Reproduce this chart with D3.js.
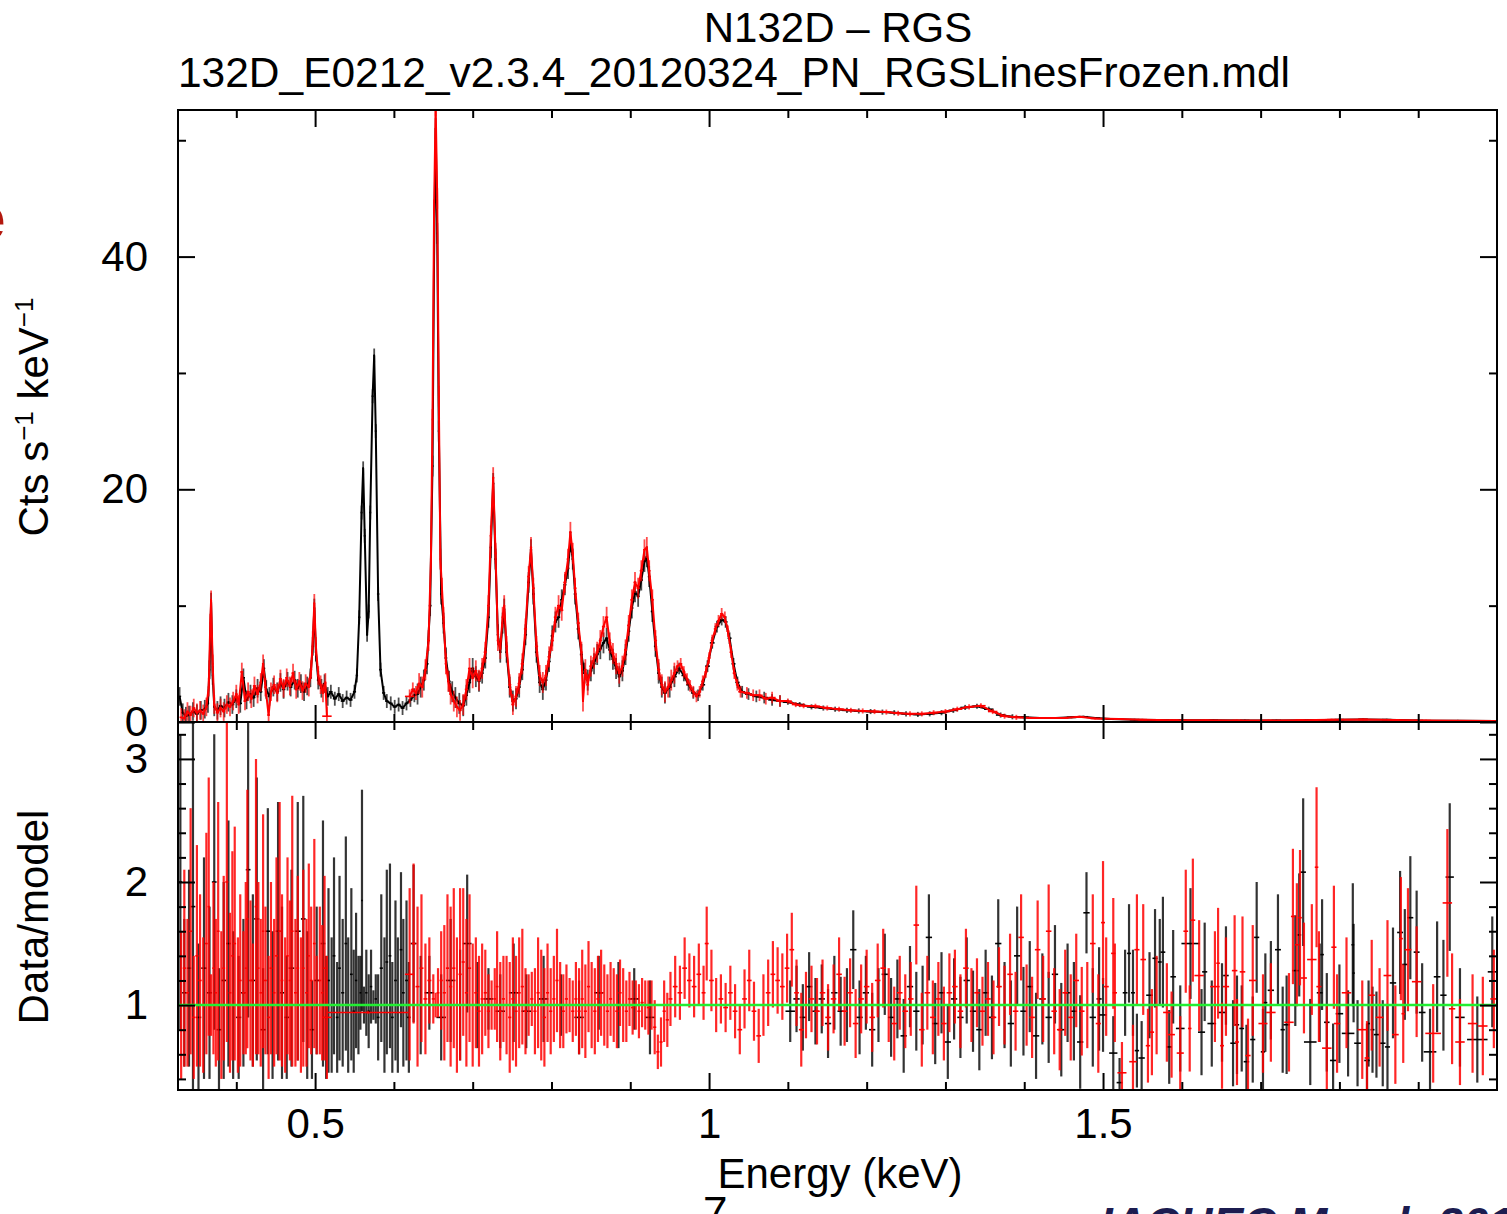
<!DOCTYPE html>
<html>
<head>
<meta charset="utf-8">
<script src="https://cdn.jsdelivr.net/npm/d3@7"></script>
<style>
body { margin: 0; background: #fff; }
text { font-family: "Liberation Sans", Arial, sans-serif; }
</style>
</head>
<body>
<svg id="chart" width="1507" height="1214"></svg>
<script>
// spectrum, [energy keV, counts/s/keV]
let spec_black = [
 [0.328,2.2],[0.332,0.8],[0.336,0.5],[0.340,0.6],[0.345,0.9],[0.350,0.7],[0.355,1.0],[0.360,1.1],[0.364,1.6],[0.366,4.5],
 [0.368,10.3],[0.370,4.0],[0.372,1.3],[0.376,1.0],[0.380,1.4],[0.385,1.2],[0.390,1.7],[0.395,1.5],[0.400,2.0],[0.405,1.6],
 [0.409,3.8],[0.413,1.9],[0.418,2.4],[0.422,2.1],[0.427,2.9],[0.431,2.6],[0.435,4.6],[0.438,2.8],[0.442,2.2],[0.447,3.0],
 [0.452,2.6],[0.456,3.4],[0.460,2.8],[0.465,3.5],[0.469,3.0],[0.474,3.6],[0.478,2.9],[0.482,3.3],[0.486,2.6],[0.490,3.1],
 [0.494,3.8],[0.497,6.5],[0.499,9.8],[0.501,6.0],[0.504,3.6],[0.508,2.9],[0.512,3.3],[0.516,2.2],[0.520,2.6],[0.525,2.0],
 [0.530,2.4],[0.535,1.8],[0.540,2.1],[0.545,1.9],[0.550,2.6],[0.553,4.0],[0.556,9.0],[0.559,18.0],[0.561,21.8],[0.563,16.0],
 [0.566,7.5],[0.568,9.5],[0.570,18.0],[0.573,28.0],[0.575,31.5],[0.577,25.0],[0.580,11.0],[0.583,4.5],[0.587,2.5],[0.591,1.8],
 [0.596,1.6],[0.601,1.3],[0.606,1.5],[0.611,1.2],[0.616,1.6],[0.621,1.9],[0.626,2.3],[0.630,2.4],[0.634,3.0],[0.638,3.6],
 [0.642,5.0],[0.646,10.0],[0.649,22.0],[0.651,40.0],[0.653,51.0],[0.655,42.0],[0.657,25.0],[0.660,11.0],[0.663,8.5],[0.666,5.5],
 [0.670,3.5],[0.674,2.6],[0.678,2.1],[0.683,1.6],[0.688,1.4],[0.692,2.3],[0.696,3.4],[0.700,4.6],[0.704,3.9],[0.708,3.5],
 [0.712,4.2],[0.716,5.5],[0.720,9.0],[0.723,15.0],[0.726,20.5],[0.729,14.0],[0.732,7.5],[0.735,6.0],[0.738,8.5],[0.740,9.7],
 [0.743,6.0],[0.747,3.0],[0.751,1.8],[0.755,2.0],[0.759,3.0],[0.763,4.5],[0.767,7.5],[0.771,12.0],[0.774,14.8],[0.777,11.0],
 [0.781,6.0],[0.785,3.4],[0.789,2.8],[0.793,3.6],[0.797,5.2],[0.801,7.4],[0.805,8.6],[0.809,9.0],[0.813,10.5],[0.817,11.8],
 [0.821,13.2],[0.824,15.5],[0.827,14.0],[0.830,11.0],[0.834,8.0],[0.838,5.8],[0.842,4.2],[0.846,3.6],[0.850,4.4],[0.854,5.0],
 [0.858,5.8],[0.862,6.3],[0.866,6.8],[0.870,7.2],[0.874,6.2],[0.878,5.4],[0.882,4.6],[0.886,3.9],[0.890,4.4],[0.894,5.8],
 [0.898,7.8],[0.902,9.8],[0.906,11.2],[0.910,10.8],[0.914,12.2],[0.918,13.8],[0.921,14.2],[0.924,12.5],[0.928,9.5],[0.932,6.5],
 [0.936,4.2],[0.940,3.0],[0.944,2.5],[0.950,3.0],[0.956,3.9],[0.962,4.6],[0.968,4.0],[0.974,3.2],[0.980,2.5],[0.986,2.3],
 [0.992,3.2],[0.998,4.8],[1.004,6.8],[1.010,8.2],[1.016,8.8],[1.021,8.6],[1.026,7.2],[1.031,5.0],[1.036,3.4],[1.042,2.6],
 [1.050,2.4],[1.060,2.2],[1.070,2.1],[1.080,1.9],[1.090,1.8],[1.100,1.7],[1.115,1.5],[1.130,1.3],[1.145,1.2],[1.160,1.1],
 [1.175,1.0],[1.190,0.95],[1.205,0.9],[1.220,0.85],[1.235,0.8],[1.250,0.7],[1.265,0.65],[1.280,0.7],[1.295,0.8],[1.310,1.0],
 [1.325,1.25],[1.340,1.35],[1.355,1.1],[1.370,0.6],[1.385,0.45],[1.400,0.4],[1.420,0.35],[1.440,0.35],[1.460,0.4],[1.475,0.45],
 [1.490,0.35],[1.510,0.25],[1.540,0.2],[1.570,0.18],[1.600,0.15],[1.640,0.14],[1.680,0.13],[1.720,0.13],[1.760,0.15],[1.800,0.2],
 [1.830,0.22],[1.860,0.2],[1.900,0.12],[1.950,0.1],[1.998,0.08]
];
let spec_red = [
 [0.330,0.4],[0.334,0.3],[0.338,0.9],[0.342,0.6],[0.346,1.2],[0.350,0.8],[0.354,1.0],[0.358,0.7],[0.362,1.3],[0.365,3.0],
 [0.367,8.5],[0.368,10.5],[0.370,5.0],[0.372,1.5],[0.376,0.8],[0.380,1.2],[0.384,0.9],[0.388,1.5],[0.392,1.3],[0.396,1.8],
 [0.400,2.4],[0.403,1.5],[0.407,4.3],[0.411,1.8],[0.415,2.6],[0.419,2.0],[0.423,3.1],[0.427,2.4],[0.431,3.4],[0.434,5.0],
 [0.437,3.0],[0.441,0.6],[0.444,2.6],[0.448,3.2],[0.452,2.5],[0.456,3.7],[0.460,2.9],[0.464,3.8],[0.468,3.1],[0.472,4.2],
 [0.476,2.8],[0.480,3.5],[0.484,2.7],[0.488,3.3],[0.492,3.0],[0.495,4.5],[0.497,7.0],[0.499,10.2],[0.501,6.5],[0.504,4.0],
 [0.507,3.2],[0.510,2.5],[0.513,3.4],[0.515,0.5],
 [0.620,2.2],[0.624,2.8],[0.628,2.5],[0.632,3.3],[0.636,3.0],[0.640,4.5],[0.644,7.0],[0.647,14.0],[0.649,26.0],[0.651,44.0],
 [0.653,53.0],[0.655,45.0],[0.657,28.0],[0.659,14.0],[0.661,11.5],[0.663,9.0],[0.666,5.0],[0.669,3.5],[0.672,2.4],[0.676,1.8],
 [0.680,1.3],[0.684,1.0],[0.688,1.5],[0.692,2.8],[0.696,4.6],[0.700,3.8],[0.704,4.4],[0.708,3.6],[0.712,4.6],[0.716,6.0],
 [0.720,10.0],[0.723,16.0],[0.726,21.0],[0.729,14.5],[0.732,7.0],[0.735,6.3],[0.738,9.0],[0.740,10.0],[0.743,6.5],[0.747,3.2],
 [0.751,1.5],[0.755,2.2],[0.759,3.3],[0.763,5.0],[0.767,8.0],[0.771,12.5],[0.774,15.0],[0.777,11.5],[0.781,6.5],[0.785,4.0],
 [0.789,3.4],[0.793,4.0],[0.797,5.6],[0.801,7.0],[0.805,9.0],[0.809,10.0],[0.813,9.6],[0.817,12.0],[0.821,14.0],[0.824,16.3],
 [0.827,14.5],[0.830,11.5],[0.834,8.5],[0.838,6.0],[0.840,1.8],[0.843,4.5],[0.846,3.2],[0.850,4.8],[0.854,5.5],[0.858,6.0],
 [0.862,7.0],[0.866,8.2],[0.870,9.0],[0.874,6.8],[0.878,5.9],[0.882,5.0],[0.886,4.2],[0.890,4.8],[0.894,6.2],[0.898,8.3],
 [0.902,10.5],[0.906,12.0],[0.910,11.5],[0.914,13.0],[0.918,14.8],[0.921,15.0],[0.924,13.0],[0.928,10.5],[0.932,7.0],[0.936,4.5],
 [0.940,3.2],[0.944,2.6],[0.948,3.0],[0.952,3.6],[0.956,4.2],[0.960,4.8],[0.964,5.0],[0.968,4.3],[0.972,3.7],[0.976,3.1],
 [0.980,2.6],[0.984,2.2],[0.988,2.6],[0.992,3.5],[0.996,4.3],[1.000,5.5],[1.004,7.0],[1.008,8.0],[1.012,8.7],[1.016,9.3],
 [1.020,9.0],[1.024,7.8],[1.028,6.0],[1.032,4.2],[1.036,3.2],[1.040,2.6],[1.048,2.5],[1.056,2.3],[1.064,2.3],[1.072,2.0],
 [1.080,2.1],[1.090,1.8],[1.100,1.8],[1.110,1.5],[1.120,1.4],[1.135,1.35],[1.150,1.2],[1.165,1.1],[1.180,1.0],[1.195,0.95],
 [1.210,0.9],[1.225,0.85],[1.240,0.75],[1.255,0.7],[1.270,0.7],[1.285,0.8],[1.300,0.9],[1.315,1.1],[1.330,1.3],[1.345,1.4],
 [1.360,0.9],[1.375,0.5],[1.390,0.4],[1.410,0.35],[1.430,0.35],[1.450,0.35],[1.470,0.45],[1.490,0.3],[1.520,0.25],[1.550,0.2],
 [1.590,0.16],[1.630,0.14],[1.670,0.13],[1.710,0.13],[1.750,0.16],[1.790,0.2],[1.830,0.22],[1.870,0.18],[1.910,0.12],[1.950,0.1],
 [1.998,0.08]
];
// error half-height of the spectrum, by energy band [upper energy, err]
let top_err_band = [[0.52,0.8],[0.63,0.6],[0.96,0.9],[1.1,0.5],[1.4,0.22],[2.01,0.08]];

// data/model ratio, [energy, ratio, half error, (optional bin half width)]
let ratio_black = [
 [0.329,2.0,1.2],[0.334,1.1,0.6],[0.340,1.3,0.8],[0.345,1.8,1.5],[0.352,0.9,0.6],[0.359,1.3,0.9],[0.366,1.1,0.7],[0.372,2.0,1.2],
 [0.378,0.8,0.5],[0.384,1.2,0.8],[0.390,1.5,1.0],[0.396,1.0,0.6],[0.403,0.9,0.5],[0.409,1.1,0.6],[0.415,2.1,1.2],[0.421,1.2,0.7],
 [0.426,1.7,1.15],[0.434,0.8,0.5],[0.440,1.6,1.0],[0.446,1.0,0.6],[0.453,1.6,1.05],[0.458,1.1,0.7],[0.464,0.9,0.5],[0.470,1.3,0.8],
 [0.478,1.6,1.05],[0.485,1.7,1.0],[0.490,1.0,0.6],[0.496,0.8,0.4],[0.502,1.2,0.6],[0.510,1.5,1.0],[0.514,0.9,0.5],
 [0.517,1.2,0.75],[0.521,1.0,0.55],[0.524,1.4,0.8],[0.528,0.9,0.45],[0.531,1.3,0.75],[0.535,1.1,0.6],[0.539,1.5,0.87],[0.542,1.0,0.55],
 [0.546,1.25,0.7],[0.549,0.95,0.5],[0.552,1.2,0.55],[0.555,1.0,0.4],[0.5575,1.1,0.3],[0.5595,1.85,0.9],[0.562,1.0,0.15],[0.565,1.1,0.35],
 [0.568,0.95,0.3],[0.571,1.15,0.3],[0.574,1.0,0.12],[0.577,1.05,0.2],[0.580,0.9,0.35],[0.584,1.3,0.6],[0.588,1.0,0.55],[0.591,1.35,0.75],
 [0.595,1.4,0.75],[0.598,0.9,0.45],[0.602,1.2,0.65],[0.605,1.0,0.55],[0.609,1.45,0.63],[0.612,1.1,0.6],[0.616,1.2,0.65],[0.619,0.9,0.45],
 [0.625,1.5,0.64],[0.634,1.0,0.4],[0.645,1.1,0.3],[0.660,0.9,0.35],[0.672,1.2,0.5],[0.684,1.0,0.45],[0.693,1.5,0.56],[0.706,1.0,0.35],
 [0.720,1.05,0.25],[0.735,0.95,0.3],[0.752,1.1,0.4],[0.768,0.95,0.3],[0.790,1.05,0.35],[0.812,1.0,0.25],[0.835,0.9,0.3],[0.860,1.1,0.3],
 [0.885,1.0,0.35],[0.905,1.05,0.25],[0.925,0.9,0.3],
 [1.103,0.95,0.25],[1.111,1.05,0.27],[1.119,0.9,0.27],[1.127,1.15,0.28],[1.135,0.95,0.27],[1.143,1.05,0.28],[1.151,0.85,0.28],[1.159,1.1,0.3],
 [1.167,0.95,0.28],[1.175,1.0,0.3],[1.183,1.45,0.32],[1.191,0.9,0.3],[1.199,1.1,0.3],[1.207,0.8,0.3],[1.215,1.0,0.3],[1.223,1.25,0.33],
 [1.231,0.9,0.32],[1.239,1.05,0.32],[1.247,0.75,0.3],[1.255,1.15,0.33],[1.263,0.95,0.32],[1.271,1.0,0.32],[1.279,1.55,0.35],[1.287,0.85,0.33],
 [1.295,1.1,0.33],[1.303,0.7,0.3],[1.311,1.05,0.33],[1.319,0.9,0.33],[1.327,1.2,0.35],[1.335,0.95,0.33],[1.343,0.8,0.33],[1.351,1.1,0.35],
 [1.359,0.9,0.34],[1.367,1.5,0.36],[1.375,1.0,0.35],[1.383,0.85,0.35],[1.391,1.4,0.4],[1.399,0.95,0.36],[1.407,1.15,0.37],[1.415,0.75,0.35],
 [1.423,1.05,0.37],[1.431,0.9,0.37],[1.439,1.25,0.4],[1.447,0.8,0.38],[1.455,1.1,0.4],[1.463,0.95,0.4],[1.471,0.7,0.38],[1.479,1.75,0.33],
 [1.487,0.9,0.4],[1.495,1.05,0.42],
 [1.500,0.92,0.3],[1.513,0.61,0.3],[1.521,0.37,0.2],[1.528,1.1,0.35],[1.533,1.42,0.4],[1.538,1.1,0.35],[1.543,0.63,0.3],[1.549,0.57,0.3],
 [1.559,1.08,0.35],[1.566,1.38,0.4],[1.572,1.35,0.35],[1.576,1.43,0.45],[1.584,0.66,0.3],[1.589,1.23,0.38],[1.598,0.81,0.35],[1.611,1.5,0.45,0.0115],
 [1.625,0.78,0.35],[1.629,1.27,0.4],[1.638,0.85,0.35],[1.651,0.94,0.4],[1.656,1.24,0.4],[1.665,0.69,0.35],[1.670,0.84,0.4],[1.676,0.81,0.35],
 [1.682,0.54,0.3],[1.690,0.72,0.35],[1.695,1.55,0.45],[1.703,0.62,0.35],[1.706,1.02,0.4],[1.713,1.12,0.4],[1.722,1.45,0.45],[1.728,0.8,0.35],
 [1.733,0.84,0.4],[1.744,1.28,0.45],[1.749,1.57,0.5],[1.754,2.08,0.6],[1.763,0.7,0.35,0.008],[1.775,1.1,0.4],[1.778,1.41,0.45],[1.784,0.86,0.4],
 [1.792,0.55,0.3],[1.800,0.93,0.4],[1.811,0.77,0.35,0.008],[1.817,1.49,0.5],[1.818,1.26,0.4],[1.823,0.69,0.35],[1.835,0.55,0.3],[1.837,0.85,0.35],
 [1.842,0.8,0.35],[1.847,0.76,0.35],[1.855,0.69,0.35],[1.861,0.66,0.35],[1.868,1.18,0.45],[1.877,1.59,0.5],[1.883,1.33,0.45],[1.890,1.71,0.5],
 [1.898,1.43,0.5],[1.905,0.94,0.4],[1.915,0.62,0.35,0.008],[1.924,1.23,0.45],[1.932,1.08,0.45],[1.940,2.04,0.6],[1.953,0.9,0.4,0.006],[1.975,0.72,0.35,0.013],
 [1.994,1.27,0.45]
];
let ratio_red = [
 [0.330,1.0,0.6],[0.334,1.3,0.8],[0.338,1.1,0.6],[0.342,1.6,1.0],[0.346,0.9,0.5],[0.350,1.4,0.9],[0.354,1.2,0.7],[0.358,1.0,0.55],
 [0.362,1.5,0.9],[0.365,1.8,1.05],[0.368,1.0,0.25],[0.371,1.3,0.7],[0.374,1.1,0.6],[0.377,1.6,1.05],[0.381,1.0,0.6],[0.384,1.3,0.75],
 [0.388,2.0,1.3],[0.392,1.1,0.65],[0.395,1.4,0.85],[0.398,1.5,0.95],[0.402,1.0,0.55],[0.405,1.2,0.7],[0.409,1.1,0.5],[0.412,1.3,0.7],
 [0.414,1.7,1.05],[0.418,1.2,0.65],[0.421,1.0,0.5],[0.425,1.8,1.2],[0.428,1.3,0.7],[0.431,1.1,0.6],[0.434,1.6,0.95],[0.437,1.2,0.6],
 [0.441,0.9,0.5],[0.444,1.3,0.7],[0.448,1.1,0.6],[0.451,1.4,0.8],[0.455,1.6,1.05],[0.458,1.2,0.7],[0.462,1.0,0.55],[0.465,1.4,0.8],
 [0.468,1.2,0.65],[0.471,1.6,1.1],[0.475,1.1,0.6],[0.478,1.3,0.75],[0.482,1.0,0.55],[0.485,1.3,0.8],[0.489,1.1,0.6],[0.492,1.4,0.75],
 [0.495,1.2,0.6],[0.499,1.5,0.85],[0.502,1.0,0.4],[0.506,1.2,0.6],[0.509,1.1,0.55],[0.512,1.3,0.75],[0.515,0.9,0.5],
 [0.567,0.94,0.01,0.0515],
 [0.620,1.25,0.7],[0.625,1.5,0.65],[0.630,1.15,0.65],[0.635,1.3,0.6],[0.640,1.05,0.45],[0.645,1.2,0.35],[0.650,1.05,0.2],[0.653,1.0,0.1],
 [0.656,1.1,0.2],[0.660,1.2,0.4],[0.664,1.1,0.55],[0.668,1.3,0.6],[0.672,1.15,0.65],[0.676,1.3,0.65],[0.680,1.0,0.55],[0.684,1.25,0.7],
 [0.688,1.35,0.6],[0.692,1.1,0.6],[0.696,1.3,0.6],[0.700,1.0,0.5],[0.704,1.1,0.45],[0.708,0.95,0.45],[0.712,1.05,0.45],[0.716,1.1,0.35],
 [0.720,0.95,0.3],[0.724,1.0,0.2],[0.728,1.05,0.25],[0.731,1.15,0.45],[0.735,0.95,0.4],[0.739,1.05,0.35],[0.743,1.0,0.4],[0.747,0.9,0.45],
 [0.751,1.05,0.5],[0.755,0.95,0.45],[0.759,1.1,0.45],[0.763,1.15,0.47],[0.767,0.95,0.35],[0.771,1.0,0.25],[0.775,1.05,0.22],[0.779,0.95,0.35],
 [0.783,1.1,0.45],[0.787,1.0,0.45],[0.791,0.9,0.4],[0.795,1.1,0.4],[0.799,0.95,0.35],[0.803,1.05,0.35],[0.807,1.2,0.42],[0.811,1.0,0.35],
 [0.815,0.95,0.3],[0.819,1.05,0.28],[0.823,1.0,0.22],[0.827,0.95,0.25],[0.831,1.05,0.3],[0.835,0.95,0.35],[0.839,1.05,0.4],[0.843,0.95,0.38],
 [0.847,1.15,0.37],[0.851,1.0,0.35],[0.855,0.95,0.35],[0.859,1.05,0.35],[0.863,1.1,0.35],[0.867,1.0,0.33],[0.871,0.95,0.3],[0.875,1.05,0.3],
 [0.879,1.0,0.3],[0.883,0.95,0.3],[0.887,1.1,0.27],[0.891,1.0,0.3],[0.895,0.95,0.25],[0.899,1.05,0.22],[0.903,0.98,0.22],[0.907,1.0,0.2],
 [0.911,0.95,0.22],[0.915,1.02,0.2],[0.919,1.0,0.2],[0.923,0.98,0.22],[0.927,1.0,0.2],[0.931,0.82,0.22],[0.935,0.62,0.14],[0.939,0.7,0.2],
 [0.943,0.95,0.25],[0.947,0.88,0.22],
 [0.951,1.05,0.22],[0.957,1.15,0.25],[0.963,1.1,0.22],[0.969,1.3,0.25],[0.975,1.2,0.22],[0.981,1.15,0.25],[0.987,1.25,0.25],[0.993,1.1,0.22],
 [0.997,1.5,0.3],[1.003,1.2,0.25],[1.009,1.0,0.22],[1.015,1.05,0.2],[1.021,0.98,0.2],[1.027,1.1,0.22],[1.033,0.95,0.22],[1.039,0.8,0.2],
 [1.045,1.05,0.24],[1.051,1.2,0.25],[1.057,0.95,0.24],[1.063,0.75,0.22],[1.069,1.0,0.25],[1.075,1.1,0.27],[1.081,1.25,0.27],[1.087,1.2,0.27],
 [1.093,1.15,0.27],[1.099,1.3,0.28],[1.105,1.45,0.3],[1.111,1.1,0.27],[1.117,0.8,0.3],[1.123,1.0,0.27],[1.130,1.05,0.27],[1.137,0.95,0.27],
 [1.144,1.1,0.27],[1.151,0.9,0.27],[1.158,1.05,0.28],[1.165,1.25,0.3],[1.172,0.95,0.28],[1.179,1.1,0.28],[1.186,0.85,0.28],[1.193,1.05,0.28],
 [1.200,1.15,0.3],[1.207,0.9,0.28],[1.214,1.2,0.3],[1.221,1.3,0.32],[1.228,1.0,0.3],[1.235,0.85,0.3],[1.242,1.1,0.3],[1.249,0.95,0.3],
 [1.256,1.05,0.3],[1.263,1.65,0.32],[1.270,0.8,0.3],[1.277,1.1,0.3],[1.284,0.9,0.3],[1.291,1.05,0.3],[1.298,0.85,0.3],[1.305,1.1,0.32],
 [1.312,1.15,0.3],[1.319,0.95,0.3],[1.326,1.3,0.32],[1.333,1.0,0.3],[1.340,1.1,0.28],[1.347,0.95,0.28],[1.354,1.05,0.3],[1.361,0.9,0.3],
 [1.368,1.15,0.32],[1.375,1.0,0.32],[1.382,1.25,0.33],[1.389,0.95,0.32],[1.396,1.55,0.35],[1.403,1.0,0.33],[1.410,0.9,0.33],[1.417,1.45,0.4],
 [1.424,1.05,0.35],[1.431,1.6,0.38],[1.438,0.95,0.35],[1.445,0.8,0.33],[1.452,1.1,0.35],[1.459,0.9,0.35],[1.466,1.2,0.38],[1.473,0.95,0.36],
 [1.480,1.0,0.35],[1.487,1.5,0.4],[1.494,0.85,0.4],
 [1.500,1.67,0.5],[1.504,1.15,0.4],[1.513,1.42,0.45],[1.515,1.1,0.4],[1.524,0.45,0.25],[1.538,0.54,0.3],[1.543,1.45,0.45],[1.551,1.37,0.45],
 [1.557,0.67,0.3],[1.562,0.78,0.35],[1.568,1.0,0.4],[1.581,0.94,0.4],[1.587,0.76,0.35],[1.598,0.61,0.3],[1.605,1.6,0.5],[1.610,0.81,0.35],
 [1.614,1.69,0.5],[1.622,1.24,0.45],[1.642,1.15,0.45],[1.646,1.34,0.45],[1.651,0.67,0.35],[1.656,1.15,0.4],[1.667,1.28,0.45],[1.670,0.7,0.35],
 [1.677,1.27,0.45],[1.684,0.59,0.3],[1.690,1.2,0.45],[1.703,0.85,0.4],[1.713,0.94,0.4],[1.736,0.86,0.4],[1.741,1.72,0.55],[1.746,1.49,0.5],
 [1.750,1.71,0.55],[1.755,1.22,0.45],[1.765,1.37,0.45,0.006],[1.771,2.12,0.65],[1.774,1.15,0.45],[1.784,0.65,0.35,0.006],[1.793,1.47,0.5],[1.797,0.85,0.4],
 [1.809,1.1,0.45],[1.829,0.8,0.4],[1.835,0.57,0.3],[1.841,1.08,0.45],[1.851,0.9,0.4],[1.861,1.24,0.45],[1.871,0.76,0.4],[1.878,1.54,0.5],
 [1.881,0.93,0.4],[1.887,1.45,0.5],[1.898,1.19,0.45],[1.919,0.77,0.4,0.01],[1.937,1.83,0.6],[1.943,0.97,0.45],[1.953,0.7,0.35],[1.969,0.85,0.4,0.006],
 [1.982,0.83,0.4,0.006],[1.996,1.05,0.4]
];

// ticks and labels
let x_major = [0.5, 1, 1.5];
let x_minor = [0.4, 0.6, 0.7, 0.8, 0.9, 1.1, 1.2, 1.3, 1.4, 1.6, 1.7, 1.8, 1.9];
let y_top_major = [0, 20, 40];
let y_top_minor = [10, 30, 50];
let y_ratio_major = [1, 2, 3];
let y_ratio_minor = [0.4, 0.6, 0.8, 1.2, 1.4, 1.6, 1.8, 2.2, 2.4, 2.6, 2.8, 3.2];
let title = 'N132D \u2013 RGS';
let subtitle = '132D_E0212_v2.3.4_20120324_PN_RGSLinesFrozen.mdl';

let fontFamily = '"Liberation Sans", Arial, sans-serif';
let L = 178, R = 1497, T = 110, M = 722, B = 1090;
let svg = d3.select('#chart');

let x = d3.scaleLinear().domain([0.326, 2.0]).range([L, R]);
let y_top = d3.scaleLinear().domain([0, 52.6]).range([M, T]);
let y_ratio = d3.scaleLinear().domain([0.31, 3.3]).range([B, M]);

function half_width(rows, i) {
    if (rows[i].length > 3) return rows[i][3];
    let prev = i > 0 ? rows[i - 1][0] : rows[i][0] - 0.004;
    let next = i < rows.length - 1 ? rows[i + 1][0] : rows[i][0] + 0.004;
    return Math.min((next - prev) / 4, 0.006);
}

function top_err(d) {
    for (let b of top_err_band)
        if (d[0] < b[0]) return b[1];
    return 0.08;
}

// error bars plus bin width markers
function draw_points(g, rows, y, color, get_err, bar_w, bar_op) {
    g.append('g').selectAll('line')
        .data(rows)
        .enter().append('line')
        .attr('x1', d => x(d[0]))
        .attr('x2', d => x(d[0]))
        .attr('y1', d => y(d[1] - get_err(d)))
        .attr('y2', d => y(d[1] + get_err(d)))
        .attr('stroke', color)
        .attr('stroke-width', bar_w)
        .attr('stroke-opacity', bar_op);
    g.append('g').selectAll('line')
        .data(rows)
        .enter().append('line')
        .attr('x1', (d, i) => x(d[0] - half_width(rows, i)))
        .attr('x2', (d, i) => x(d[0] + half_width(rows, i)))
        .attr('y1', d => y(d[1]))
        .attr('y2', d => y(d[1]))
        .attr('stroke', color)
        .attr('stroke-width', 1.6);
}

// continuous trace through the spectrum, broken at the gaps
function draw_trace(g, rows, color) {
    let segs = [[]];
    rows.forEach((d, i) => {
        if (i > 0 && d[0] - rows[i - 1][0] > 0.06) segs.push([]);
        segs[segs.length - 1].push(d);
    });
    let line = d3.line().x(d => x(d[0])).y(d => y_top(d[1]));
    segs.forEach(s => {
        g.append('path')
            .attr('d', line(s))
            .attr('fill', 'none')
            .attr('stroke', color)
            .attr('stroke-width', 2)
            .attr('stroke-linejoin', 'round');
    });
}

function add_axis(axis_fn, scale, values, size, transform, labelled, pad) {
    let a = axis_fn(scale)
        .tickValues(values)
        .tickSize(size)
        .tickPadding(pad || 0)
        .tickFormat(labelled ? (d => d) : '');
    svg.append('g')
        .attr('transform', transform)
        .call(a)
        .attr('font-size', 42)
        .attr('font-family', fontFamily)
        .call(g => g.select('.domain').remove())
        .call(g => g.selectAll('line').attr('stroke', '#000').attr('stroke-width', 2))
        .call(g => g.selectAll('text').attr('fill', '#000'));
}

function draw_main() {
    let defs = svg.append('defs');
    defs.append('clipPath').attr('id', 'clip_top')
        .append('rect').attr('x', L).attr('y', T).attr('width', R - L).attr('height', M - T);
    defs.append('clipPath').attr('id', 'clip_bot')
        .append('rect').attr('x', L).attr('y', M).attr('width', R - L).attr('height', B - M);

    // titles
    svg.append('text')
        .attr('x', 838).attr('y', 42)
        .attr('text-anchor', 'middle')
        .attr('font-size', 42)
        .text(title);
    svg.append('text')
        .attr('x', L).attr('y', 87)
        .attr('font-size', 42)
        .attr('textLength', 1112)
        .attr('lengthAdjust', 'spacingAndGlyphs')
        .text(subtitle);

    // upper panel: spectrum
    let gt = svg.append('g').attr('clip-path', 'url(#clip_top)');
    draw_trace(gt, spec_black, '#000');
    draw_points(gt, spec_black, y_top, '#000', top_err, 1.8, 0.7);
    draw_trace(gt, spec_red, '#ff0000');
    draw_points(gt, spec_red, y_top, '#ff0000', top_err, 1.8, 0.7);

    // lower panel: ratio
    let gb = svg.append('g').attr('clip-path', 'url(#clip_bot)');
    draw_points(gb, ratio_black, y_ratio, '#000', d => d[2], 2.2, 0.8);
    draw_points(gb, ratio_red, y_ratio, '#ff0000', d => d[2], 2.2, 0.85);
    gb.append('line')
        .attr('x1', L).attr('x2', R)
        .attr('y1', y_ratio(1)).attr('y2', y_ratio(1))
        .attr('stroke', '#22ee33')
        .attr('stroke-width', 2.5);

    // frames
    [[T, M], [M, B]].forEach(p => {
        svg.append('rect')
            .attr('x', L).attr('y', p[0])
            .attr('width', R - L).attr('height', p[1] - p[0])
            .attr('fill', 'none')
            .attr('stroke', '#000')
            .attr('stroke-width', 2);
    });

    // energy ticks on all four horizontal edges
    [[M, d3.axisBottom], [T, d3.axisTop], [M, d3.axisTop], [B, d3.axisBottom]].forEach(p => {
        add_axis(p[1], x, x_minor, -8, `translate(0,${p[0]})`, false);
    });
    add_axis(d3.axisBottom, x, x_major, -17, `translate(0,${M})`, false);
    add_axis(d3.axisTop, x, x_major, -17, `translate(0,${T})`, false);
    add_axis(d3.axisTop, x, x_major, -17, `translate(0,${M})`, false);
    add_axis(d3.axisBottom, x, x_major, -17, `translate(0,${B})`, true, 18);

    // count axis
    add_axis(d3.axisLeft, y_top, y_top_minor, -8, `translate(${L},0)`, false);
    add_axis(d3.axisLeft, y_top, y_top_major, -17, `translate(${L},0)`, true, 30);
    add_axis(d3.axisRight, y_top, y_top_minor, -8, `translate(${R},0)`, false);
    add_axis(d3.axisRight, y_top, y_top_major, -17, `translate(${R},0)`, false);

    // ratio axis
    add_axis(d3.axisLeft, y_ratio, y_ratio_minor, -8, `translate(${L},0)`, false);
    add_axis(d3.axisLeft, y_ratio, y_ratio_major, -17, `translate(${L},0)`, true, 30);
    add_axis(d3.axisRight, y_ratio, y_ratio_minor, -8, `translate(${R},0)`, false);
    add_axis(d3.axisRight, y_ratio, y_ratio_major, -17, `translate(${R},0)`, false);

    // axis labels
    svg.append('text')
        .attr('x', 840).attr('y', 1188)
        .attr('text-anchor', 'middle')
        .attr('font-size', 42)
        .text('Energy (keV)');

    let yl = svg.append('text')
        .attr('transform', 'translate(48,417) rotate(-90)')
        .attr('text-anchor', 'middle')
        .attr('font-size', 42);
    yl.append('tspan').text('Cts s');
    yl.append('tspan').attr('dy', -15).attr('font-size', 26).text('\u22121');
    yl.append('tspan').attr('dy', 15).text(' keV');
    yl.append('tspan').attr('dy', -15).attr('font-size', 26).text('\u22121');

    svg.append('text')
        .attr('transform', 'translate(48,917) rotate(-90)')
        .attr('text-anchor', 'middle')
        .attr('font-size', 42)
        .text('Data/model');

    // slide leftovers around the figure
    svg.append('text')
        .attr('x', -30).attr('y', 240)
        .attr('font-size', 64).attr('font-weight', 'bold')
        .attr('fill', '#b3180e')
        .text('e');
    svg.append('text')
        .attr('x', 703).attr('y', 1228)
        .attr('font-family', '"Liberation Serif", serif')
        .attr('font-size', 44)
        .text('7');
    svg.append('text')
        .attr('x', 1100).attr('y', 1240)
        .attr('font-family', '"Liberation Serif", serif')
        .attr('font-size', 46).attr('font-weight', 'bold').attr('font-style', 'italic')
        .attr('fill', '#1c1c50')
        .text('IACHEC March 2012');
}

draw_main();
</script>
</body>
</html>
